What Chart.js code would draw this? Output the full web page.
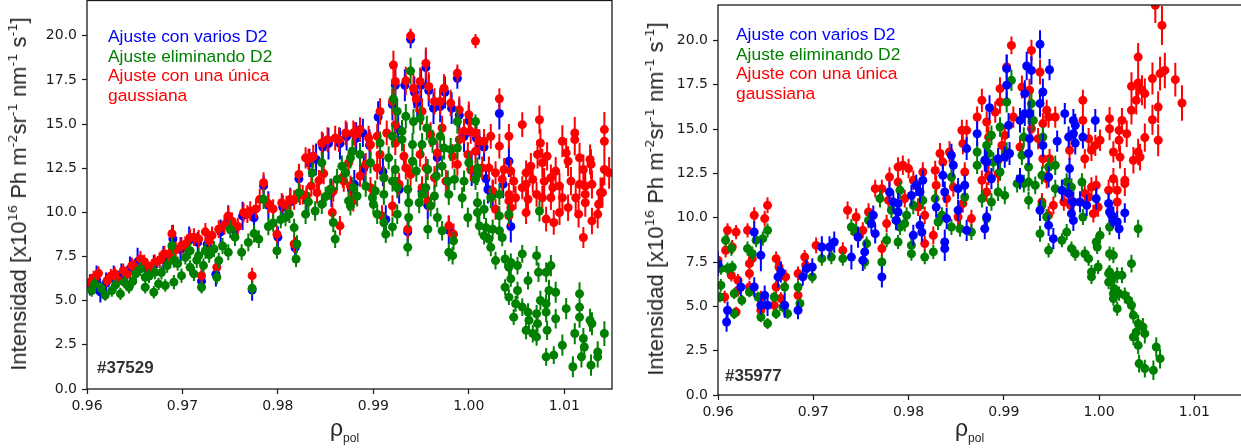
<!DOCTYPE html>
<html><head><meta charset="utf-8">
<script src="https://cdn.jsdelivr.net/npm/chart.js@4"></script>
<style>
html,body{margin:0;padding:0;background:#fff;overflow:hidden;width:1241px;height:448px;}
.wrap{position:absolute;}
.ov{position:absolute;white-space:nowrap;font-family:'Liberation Sans',Arial,sans-serif;}
.ytitle{font-size:22px;color:#262626;transform:translate(-50%,-50%) rotate(-90deg);line-height:22px;}
.ytitle sup{font-size:13px;vertical-align:9px;line-height:0;font-family:'DejaVu Sans',sans-serif;}
.xtitle{font-size:23px;color:#262626;line-height:23px;}
.xtitle sub{font-size:12px;vertical-align:-6px;line-height:0;}
.leg{font-size:17.4px;line-height:19.7px;}
.shot{font-size:17px;font-weight:bold;color:#333;line-height:17px;}
</style></head>
<body>
<div class="wrap" style="left:0;top:-4px;width:620px;height:452px;"><canvas id="cL" width="620" height="452"></canvas></div>
<div class="wrap" style="left:620px;top:0;width:630px;height:448px;"><canvas id="cR" width="630" height="448"></canvas></div>

<div class="ov ytitle" style="left:19px;top:194px;">Intensidad [x10<sup>16</sup> Ph m<sup>-2</sup>sr<sup>-1</sup> nm<sup>-1</sup> s<sup>-1</sup>]</div>
<div class="ov ytitle" style="left:656px;top:199px;">Intensidad [x10<sup>16</sup> Ph m<sup>-2</sup>sr<sup>-1</sup> nm<sup>-1</sup> s<sup>-1</sup>]</div>
<div class="ov xtitle" style="left:330px;top:417px;">ρ<sub>pol</sub></div>
<div class="ov xtitle" style="left:955px;top:417px;">ρ<sub>pol</sub></div>

<div class="ov leg" style="left:108px;top:27px;">
<div style="color:#0000ff">Ajuste con varios D2</div>
<div style="color:#008000">Ajuste eliminando D2</div>
<div style="color:#ff0000">Ajuste con una única<br>gaussiana</div>
</div>
<div class="ov leg" style="left:736px;top:25px;">
<div style="color:#0000ff">Ajuste con varios D2</div>
<div style="color:#008000">Ajuste eliminando D2</div>
<div style="color:#ff0000">Ajuste con una única<br>gaussiana</div>
</div>
<div class="ov shot" style="left:97px;top:359px;">#37529</div>
<div class="ov shot" style="left:725px;top:367px;">#35977</div>

<script>
// ---- data: [rho_pol, intensity, error] ----
const xTicks = [0.96, 0.97, 0.98, 0.99, 1.00, 1.01];
const yTicks = [0.0, 2.5, 5.0, 7.5, 10.0, 12.5, 15.0, 17.5, 20.0];

const L_blue = [[0.9603,5.9,0.6],[0.9610,6.2,0.8],[0.9614,5.5,0.6],[0.9620,6.0,0.6],[0.9628,6.3,0.7],[0.9636,6.5,0.6],[0.9645,6.8,0.7],[0.9653,7.2,0.8],[0.9662,6.8,0.6],[0.9670,7.0,0.6],[0.9680,7.4,0.7],[0.9690,8.5,0.8],[0.9698,7.9,0.7],[0.9707,8.4,0.8],[0.9716,8.3,0.6],[0.9720,6.1,0.6],[0.9726,8.2,0.7],[0.9735,6.5,0.7],[0.9740,8.9,0.7],[0.9748,9.6,0.8],[0.9755,9.0,0.6],[0.9763,9.8,0.8],[0.9773,5.6,0.6],[0.9775,9.7,0.7],[0.9785,11.5,0.6],[0.9790,10.4,0.8],[0.9800,8.6,0.6],[0.9805,10.3,0.7],[0.9813,10.6,0.8],[0.9818,8.0,0.6],[0.9822,11.9,0.7],[0.9830,10.7,0.7],[0.9833,12.8,0.8],[0.9840,13.0,0.9],[0.9847,13.7,0.8],[0.9853,13.9,0.9],[0.9856,11.1,0.8],[0.9865,13.9,0.9],[0.9872,14.3,0.8],[0.9877,11.3,0.7],[0.9880,11.6,0.8],[0.9882,14.2,0.9],[0.9889,14.5,0.8],[0.9890,12.5,0.8],[0.9896,13.8,0.9],[0.9905,15.4,0.9],[0.9910,12.3,0.8],[0.9913,9.6,0.8],[0.9920,16.1,0.9],[0.9923,17.2,1.0],[0.9926,14.7,0.9],[0.9927,11.3,0.8],[0.9933,17.2,0.9],[0.9936,8.9,0.8],[0.9939,19.8,0.5],[0.9943,16.8,0.9],[0.9946,16.2,0.8],[0.9950,17.2,0.9],[0.9951,11.2,0.8],[0.9955,18.2,1.0],[0.9957,10.4,0.8],[0.9958,16.9,0.9],[0.9963,15.9,0.9],[0.9967,13.1,0.8],[0.9970,16.0,0.9],[0.9975,16.8,0.9],[0.9979,9.0,0.8],[0.9982,15.9,0.9],[0.9988,17.6,0.6],[0.9990,15.5,0.9],[0.9995,14.3,0.9],[1.0000,15.2,0.9],[1.0003,12.4,0.9],[1.0008,14.2,0.8],[1.0011,13.8,0.8],[1.0016,13.7,0.8],[1.0018,11.9,0.8],[1.0020,11.3,0.8],[1.0025,11.0,0.8],[1.0032,15.6,0.9],[1.0036,11.6,0.8],[1.0042,12.9,0.9],[1.0044,9.2,0.9]];

const L_green = [[0.9605,5.58,0.35],[0.9608,5.95,0.35],[0.9615,5.7,0.35],[0.9619,5.3,0.3],[0.9626,5.58,0.35],[0.9630,5.9,0.35],[0.9635,5.39,0.35],[0.9639,6.05,0.35],[0.9644,5.76,0.35],[0.9648,6.1,0.35],[0.9651,6.52,0.4],[0.9656,6.8,0.4],[0.9661,6.33,0.4],[0.9661,5.76,0.35],[0.9665,6.4,0.4],[0.9670,5.48,0.35],[0.9671,6.61,0.4],[0.9675,5.95,0.35],[0.9678,6.6,0.4],[0.9682,5.86,0.35],[0.9684,6.99,0.4],[0.9689,8.11,0.45],[0.9691,6.05,0.4],[0.9691,7.27,0.4],[0.9695,7.1,0.4],[0.9699,6.42,0.4],[0.9703,7.45,0.4],[0.9708,6.89,0.4],[0.9708,7.83,0.45],[0.9712,6.52,0.4],[0.9715,7.3,0.45],[0.9717,7.55,0.45],[0.9720,5.76,0.35],[0.9722,6.99,0.4],[0.9724,7.83,0.45],[0.9728,7.6,0.45],[0.9733,7.93,0.45],[0.9736,6.33,0.4],[0.9738,7.27,0.45],[0.9742,8.1,0.45],[0.9748,7.74,0.45],[0.9750,9.05,0.5],[0.9755,8.6,0.5],[0.9762,7.74,0.45],[0.9769,8.3,0.5],[0.9773,5.7,0.4],[0.9775,8.8,0.5],[0.9780,8.49,0.5],[0.9785,10.74,0.55],[0.9790,9.2,0.5],[0.9795,9.4,0.5],[0.9799,7.83,0.45],[0.9803,9.6,0.5],[0.9808,9.71,0.5],[0.9812,9.9,0.5],[0.9817,9.14,0.5],[0.9819,7.36,0.45],[0.9820,8.21,0.5],[0.9822,11.12,0.55],[0.9829,9.9,0.55],[0.9832,10.6,0.55],[0.9836,12.24,0.6],[0.9839,10.08,0.55],[0.9846,10.46,0.55],[0.9846,12.81,0.6],[0.9850,10.9,0.55],[0.9855,11.31,0.6],[0.9858,9.43,0.55],[0.9860,8.49,0.5],[0.9862,11.87,0.6],[0.9867,12.62,0.6],[0.9871,12.24,0.6],[0.9874,10.65,0.55],[0.9876,13.09,0.6],[0.9876,10.37,0.55],[0.9878,13.46,0.65],[0.9879,11.4,0.6],[0.9883,10.93,0.6],[0.9886,13.28,0.65],[0.9892,11.49,0.6],[0.9897,12.81,0.6],[0.9899,10.83,0.6],[0.9900,10.46,0.55],[0.9902,11.21,0.6],[0.9904,9.9,0.55],[0.9907,13.93,0.65],[0.9911,11.96,0.6],[0.9911,11.02,0.6],[0.9911,9.43,0.55],[0.9913,8.77,0.5],[0.9916,13.09,0.65],[0.9920,14.31,0.65],[0.9920,11.77,0.6],[0.9920,9.18,0.55],[0.9921,16.43,0.7],[0.9923,12.43,0.6],[0.9925,15.72,0.7],[0.9925,11.4,0.6],[0.9925,9.9,0.55],[0.9930,14.59,0.65],[0.9930,14.12,0.65],[0.9934,15.44,0.7],[0.9936,11.31,0.6],[0.9936,8.02,0.5],[0.9937,10.55,0.6],[0.9937,9.71,0.55],[0.9939,18.01,0.75],[0.9941,13.84,0.65],[0.9941,12.9,0.6],[0.9942,15.15,0.7],[0.9945,12.34,0.6],[0.9948,10.55,0.6],[0.9949,15.34,0.7],[0.9951,13.84,0.65],[0.9951,11.02,0.6],[0.9955,11.4,0.6],[0.9956,14.78,0.7],[0.9957,12.43,0.6],[0.9957,9.05,0.55],[0.9960,10.37,0.6],[0.9962,14.03,0.65],[0.9964,10.93,0.6],[0.9966,12.06,0.6],[0.9967,9.71,0.55],[0.9970,14.31,0.65],[0.9972,12.62,0.6],[0.9972,8.96,0.55],[0.9974,13.65,0.65],[0.9978,11.77,0.6],[0.9979,11.02,0.6],[0.9979,7.74,0.5],[0.9981,13.56,0.65],[0.9983,7.55,0.5],[0.9984,8.39,0.5],[0.9985,11.87,0.6],[0.9988,15.15,0.7],[0.9988,13.65,0.65],[0.9993,10.83,0.6],[0.9995,11.77,0.6],[0.9999,9.71,0.55],[1.0000,12.81,0.6],[1.0007,15.15,0.4],[1.0007,11.87,0.6],[1.0009,12.52,0.6],[1.0009,12.15,0.6],[1.0009,10.55,0.6],[1.0009,9.99,0.55],[1.0011,9.24,0.55],[1.0016,10.18,0.55],[1.0016,8.68,0.5],[1.0018,9.14,0.55],[1.0021,8.49,0.5],[1.0023,10.83,0.6],[1.0023,8.02,0.5],[1.0025,9.05,0.55],[1.0028,7.27,0.5],[1.0032,11.02,0.6],[1.0032,9.8,0.55],[1.0032,8.96,0.55],[1.0035,8.58,0.5],[1.0038,7.36,0.5],[1.0038,5.76,0.45],[1.0042,9.9,0.55],[1.0042,6.89,0.5],[1.0042,5.2,0.45],[1.0044,7.17,0.5],[1.0044,6.24,0.45],[1.0047,4.07,0.45],[1.0049,4.83,0.45],[1.0051,6.99,0.5],[1.0051,5.58,0.5],[1.0056,7.65,0.5],[1.0056,4.64,0.5],[1.0060,3.32,0.5],[1.0062,6.14,0.5],[1.0062,4.35,0.5],[1.0063,3.89,0.5],[1.0067,3.14,0.5],[1.0071,7.55,0.55],[1.0071,4.26,0.5],[1.0071,2.95,0.5],[1.0072,3.7,0.5],[1.0073,6.61,0.55],[1.0074,10.08,0.6],[1.0075,5.01,0.55],[1.0081,6.61,0.55],[1.0081,4.83,0.55],[1.0081,4.35,0.55],[1.0081,1.82,0.5],[1.0082,3.32,0.55],[1.0084,5.58,0.6],[1.0086,6.99,0.6],[1.0089,1.92,0.5],[1.0091,5.48,0.6],[1.0091,3.98,0.55],[1.0098,2.48,0.6],[1.0102,4.55,0.6],[1.0109,1.26,0.6],[1.0111,3.14,0.6],[1.0116,5.39,0.65],[1.0116,4.64,0.65],[1.0116,4.07,0.6],[1.0118,1.82,0.6],[1.0120,2.86,0.6],[1.0121,2.38,0.6],[1.0127,3.89,0.65],[1.0128,1.35,0.6],[1.0129,3.7,0.65],[1.0135,2.1,0.6],[1.0135,1.82,0.6],[1.0142,3.14,0.7]];

const L_red = [[0.9603,6.05,0.35],[0.9607,6.3,0.4],[0.9612,6.55,0.4],[0.9621,6.14,0.35],[0.9625,6.4,0.4],[0.9629,6.52,0.4],[0.9632,6.2,0.35],[0.9638,6.7,0.4],[0.9642,6.5,0.4],[0.9647,6.99,0.45],[0.9650,6.9,0.4],[0.9656,7.36,0.45],[0.9660,7.2,0.4],[0.9663,6.99,0.4],[0.9667,6.8,0.4],[0.9671,7.17,0.45],[0.9676,7.3,0.45],[0.9681,7.66,0.45],[0.9686,7.65,0.45],[0.9689,8.79,0.5],[0.9693,7.9,0.45],[0.9699,8.11,0.5],[0.9703,8.2,0.45],[0.9708,8.58,0.5],[0.9712,8.6,0.5],[0.9717,8.5,0.5],[0.9720,6.42,0.4],[0.9724,8.9,0.5],[0.9728,8.4,0.5],[0.9731,8.7,0.5],[0.9736,6.89,0.45],[0.9738,9.05,0.5],[0.9744,9.3,0.55],[0.9748,9.8,0.55],[0.9752,9.5,0.5],[0.9758,9.2,0.5],[0.9764,9.99,0.55],[0.9768,9.9,0.5],[0.9771,10.08,0.55],[0.9773,6.42,0.45],[0.9777,10.2,0.55],[0.9781,10.74,0.6],[0.9785,11.68,0.6],[0.9790,10.5,0.55],[0.9795,10.2,0.55],[0.9799,8.77,0.5],[0.9804,10.55,0.55],[0.9809,10.4,0.55],[0.9813,10.74,0.6],[0.9817,8.21,0.5],[0.9817,10.7,0.55],[0.9822,12.15,0.6],[0.9823,11.02,0.6],[0.9826,11.0,0.55],[0.9829,13.09,0.6],[0.9830,10.93,0.6],[0.9832,13.0,0.6],[0.9835,11.5,0.6],[0.9837,13.18,0.65],[0.9841,11.12,0.6],[0.9843,11.8,0.6],[0.9846,13.93,0.65],[0.9848,12.2,0.6],[0.9852,14.12,0.7],[0.9855,11.31,0.6],[0.9857,9.99,0.55],[0.9858,11.21,0.6],[0.9860,14.21,0.7],[0.9864,14.12,0.7],[0.9865,9.24,0.55],[0.9868,12.0,0.6],[0.9869,11.77,0.6],[0.9871,14.5,0.7],[0.9874,12.8,0.65],[0.9876,11.49,0.6],[0.9879,14.5,0.7],[0.9879,10.65,0.6],[0.9881,14.41,0.7],[0.9886,14.69,0.7],[0.9886,12.06,0.6],[0.9892,12.72,0.65],[0.9895,14.21,0.7],[0.9897,13.84,0.7],[0.9897,11.4,0.6],[0.9904,14.31,0.7],[0.9904,12.52,0.65],[0.9907,15.72,0.75],[0.9907,13.28,0.65],[0.9909,9.8,0.6],[0.9911,11.96,0.65],[0.9914,14.5,0.7],[0.9920,16.28,0.75],[0.9920,10.37,0.6],[0.9921,18.35,0.8],[0.9923,17.41,0.8],[0.9923,14.97,0.7],[0.9923,13.93,0.7],[0.9927,11.59,0.65],[0.9932,13.18,0.7],[0.9934,17.45,0.8],[0.9934,12.52,0.65],[0.9936,9.05,0.6],[0.9939,20.0,0.4],[0.9939,12.15,0.65],[0.9942,17.03,0.8],[0.9945,16.43,0.75],[0.9949,17.41,0.8],[0.9949,13.28,0.7],[0.9951,15.72,0.75],[0.9951,11.4,0.65],[0.9955,18.44,0.9],[0.9955,12.52,0.65],[0.9957,10.65,0.6],[0.9958,17.13,0.8],[0.9960,14.41,0.7],[0.9964,16.28,0.75],[0.9964,11.96,0.65],[0.9967,13.37,0.7],[0.9970,16.28,0.75],[0.9972,14.78,0.7],[0.9974,17.03,0.8],[0.9976,11.77,0.65],[0.9979,9.24,0.6],[0.9981,16.19,0.75],[0.9983,13.18,0.7],[0.9984,8.77,0.6],[0.9988,17.88,0.5],[0.9988,12.72,0.65],[0.9990,15.81,0.75],[0.9990,14.12,0.7],[0.9995,14.59,0.7],[0.9999,13.28,0.7],[1.0000,15.53,0.75],[1.0002,14.59,0.7],[1.0002,12.43,0.65],[1.0007,19.7,0.4],[1.0007,14.5,0.7],[1.0007,13.46,0.7],[1.0011,14.03,0.7],[1.0014,12.52,0.65],[1.0016,14.03,0.7],[1.0021,12.52,0.65],[1.0023,14.31,0.7],[1.0025,11.21,0.65],[1.0028,12.24,0.65],[1.0028,10.18,0.6],[1.0032,16.43,0.6],[1.0032,13.75,0.7],[1.0035,11.87,0.65],[1.0037,12.43,0.65],[1.0042,14.31,0.7],[1.0042,11.02,0.65],[1.0042,10.65,0.6],[1.0042,9.8,0.6],[1.0044,12.34,0.65],[1.0044,10.27,0.6],[1.0047,11.77,0.65],[1.0049,10.83,0.65],[1.0056,14.97,0.7],[1.0056,11.4,0.65],[1.0060,12.24,0.7],[1.0060,11.59,0.7],[1.0060,9.99,0.65],[1.0062,10.74,0.7],[1.0065,12.62,0.75],[1.0067,11.87,0.75],[1.0071,11.02,0.7],[1.0072,13.28,0.8],[1.0074,15.25,0.8],[1.0075,13.93,0.8],[1.0077,12.81,0.8],[1.0077,10.83,0.7],[1.0079,11.77,0.75],[1.0081,9.62,0.7],[1.0082,13.18,0.8],[1.0086,11.96,0.75],[1.0086,10.83,0.7],[1.0088,11.4,0.75],[1.0089,9.43,0.7],[1.0091,12.34,0.8],[1.0095,11.49,0.75],[1.0095,9.99,0.7],[1.0098,14.03,0.9],[1.0098,10.83,0.75],[1.0102,13.37,0.85],[1.0104,12.9,0.85],[1.0104,10.27,0.75],[1.0107,11.77,0.8],[1.0111,14.5,0.9],[1.0111,14.12,0.9],[1.0112,10.83,0.8],[1.0115,9.9,0.75],[1.0116,13.09,0.85],[1.0116,11.59,0.8],[1.0120,12.43,0.85],[1.0120,8.58,0.6],[1.0122,11.49,0.8],[1.0122,11.02,0.8],[1.0122,10.55,0.8],[1.0127,13.0,0.85],[1.0128,12.72,0.85],[1.0129,11.59,0.8],[1.0129,9.52,0.75],[1.0135,9.9,0.8],[1.0136,10.46,0.8],[1.0138,11.12,0.85],[1.0140,11.12,0.85],[1.0142,14.69,1.0],[1.0142,14.03,1.0],[1.0142,12.43,0.9],[1.0147,12.24,0.9]];

const R_blue = [[0.9600,7.41,0.7],[0.9609,4.12,0.55],[0.9610,4.78,0.5],[0.9624,6.09,0.5],[0.9638,9.19,0.6],[0.9638,6.09,0.55],[0.9645,7.88,0.9],[0.9645,5.06,0.5],[0.9649,5.62,0.55],[0.9652,5.06,0.6],[0.9663,6.66,0.6],[0.9666,6.94,0.6],[0.9670,5.06,0.7],[0.9684,4.78,0.5],[0.9689,6.66,0.5],[0.9693,7.13,0.5],[0.9699,7.22,0.5],[0.9709,8.35,0.6],[0.9717,8.35,0.6],[0.9722,8.63,0.6],[0.9740,7.78,0.7],[0.9747,8.91,0.6],[0.9752,7.6,0.6],[0.9754,8.07,0.6],[0.9761,9.67,0.55],[0.9763,10.14,0.55],[0.9765,9.1,0.55],[0.9772,6.66,0.6],[0.9780,11.45,0.6],[0.9784,10.89,0.6],[0.9787,9.85,0.55],[0.9789,10.8,0.6],[0.9789,10.32,0.6],[0.9803,11.26,0.6],[0.9805,9.01,0.6],[0.9808,11.83,0.6],[0.9812,11.45,0.6],[0.9812,9.57,0.55],[0.9814,9.19,0.55],[0.9815,12.11,0.6],[0.9829,10.6,0.6],[0.9836,12.39,0.65],[0.9838,11.45,0.6],[0.9838,8.63,0.7],[0.9838,8.26,0.7],[0.9840,9.95,0.6],[0.9845,13.52,0.65],[0.9847,12.96,0.65],[0.9852,11.64,0.6],[0.9852,10.42,0.6],[0.9859,11.83,0.6],[0.9861,13.9,0.65],[0.9861,9.29,0.6],[0.9872,14.74,0.7],[0.9880,13.24,0.65],[0.9880,9.38,0.6],[0.9882,13.14,0.6],[0.9882,10.04,0.6],[0.9885,16.21,0.7],[0.9887,12.2,0.6],[0.9894,13.33,0.6],[0.9901,13.42,0.6],[0.9903,18.41,0.8],[0.9903,17.47,0.75],[0.9905,15.21,0.7],[0.9906,13.62,0.65],[0.9917,15.49,0.7],[0.9917,12.2,0.6],[0.9922,17.0,0.75],[0.9922,15.87,0.7],[0.9924,18.56,0.8],[0.9926,13.62,0.65],[0.9927,15.87,0.7],[0.9927,14.46,0.65],[0.9929,18.31,0.8],[0.9938,19.78,0.8],[0.9938,16.44,0.75],[0.9938,10.42,0.6],[0.9941,17.09,0.75],[0.9941,14.08,0.65],[0.9947,12.3,0.6],[0.9947,9.57,0.6],[0.9948,18.35,0.6],[0.9952,8.82,0.6],[0.9956,14.32,0.6],[0.9961,11.55,0.6],[0.9964,15.87,0.6],[0.9968,14.55,0.6],[0.9968,11.36,0.6],[0.9969,12.77,0.6],[0.9971,10.23,0.6],[0.9973,15.49,0.65],[0.9973,14.74,0.65],[0.9973,10.89,0.6],[0.9973,9.85,0.6],[0.9975,15.21,0.65],[0.9975,14.21,0.65],[0.9980,10.89,0.6],[0.9983,14.55,0.65],[0.9987,10.7,0.6],[0.9996,15.49,0.65],[0.9997,11.08,0.6],[1.0010,10.8,0.6],[1.0011,10.32,0.6],[1.0013,10.14,0.6],[1.0015,10.04,0.6],[1.0019,9.76,0.6],[1.0021,9.38,0.6],[1.0027,10.27,0.55]];

const R_green = [[0.9602,5.53,0.3],[0.9603,7.13,0.35],[0.9603,6.19,0.35],[0.9608,8.73,0.4],[0.9610,7.13,0.35],[0.9614,8.26,0.4],[0.9615,7.22,0.35],[0.9617,5.72,0.3],[0.9617,4.59,0.3],[0.9625,5.34,0.3],[0.9631,8.26,0.4],[0.9633,5.81,0.3],[0.9636,7.97,0.4],[0.9640,8.73,0.4],[0.9642,5.53,0.3],[0.9645,4.4,0.3],[0.9647,8.82,0.4],[0.9652,9.29,0.4],[0.9652,4.03,0.3],[0.9659,5.53,0.3],[0.9661,4.59,0.3],[0.9668,4.96,0.3],[0.9670,6.09,0.35],[0.9673,4.59,0.3],[0.9684,6.09,0.35],[0.9686,5.16,0.3],[0.9699,6.66,0.35],[0.9709,7.69,0.4],[0.9719,7.78,0.4],[0.9731,7.69,0.4],[0.9740,9.48,0.45],[0.9745,9.19,0.45],[0.9754,7.5,0.4],[0.9756,8.54,0.4],[0.9758,9.85,0.45],[0.9770,11.08,0.5],[0.9772,7.5,0.4],[0.9777,8.73,0.4],[0.9782,10.42,0.45],[0.9787,9.85,0.45],[0.9789,8.63,0.4],[0.9791,11.55,0.5],[0.9791,9.48,0.45],[0.9796,9.67,0.45],[0.9798,10.14,0.45],[0.9803,8.44,0.4],[0.9803,7.97,0.4],[0.9805,10.7,0.5],[0.9815,10.98,0.5],[0.9817,7.78,0.4],[0.9826,8.07,0.4],[0.9828,11.08,0.5],[0.9831,9.76,0.45],[0.9835,10.14,0.45],[0.9845,12.3,0.5],[0.9845,9.48,0.45],[0.9854,9.38,0.45],[0.9859,11.17,0.5],[0.9866,9.19,0.45],[0.9872,12.96,0.5],[0.9872,13.71,0.55],[0.9877,11.08,0.5],[0.9882,14.08,0.55],[0.9882,9.95,0.45],[0.9884,13.62,0.55],[0.9887,14.65,0.55],[0.9887,10.89,0.5],[0.9889,13.14,0.55],[0.9894,11.45,0.5],[0.9896,15.12,0.55],[0.9896,12.58,0.5],[0.9901,11.26,0.5],[0.9903,16.53,0.6],[0.9903,13.71,0.55],[0.9908,17.75,0.6],[0.9914,11.92,0.5],[0.9919,13.52,0.55],[0.9921,14.55,0.55],[0.9921,11.92,0.5],[0.9926,15.87,0.6],[0.9926,12.86,0.55],[0.9926,12.01,0.5],[0.9926,10.98,0.5],[0.9929,16.44,0.6],[0.9931,15.49,0.6],[0.9933,11.83,0.5],[0.9938,9.1,0.45],[0.9940,12.39,0.5],[0.9940,10.7,0.5],[0.9941,14.55,0.55],[0.9945,10.04,0.45],[0.9947,12.86,0.55],[0.9947,8.16,0.4],[0.9954,12.96,0.55],[0.9954,11.64,0.5],[0.9961,8.73,0.4],[0.9966,12.01,0.5],[0.9966,9.19,0.45],[0.9971,11.73,0.5],[0.9971,8.26,0.4],[0.9975,7.97,0.4],[0.9982,12.01,0.5],[0.9983,10.04,0.45],[0.9985,7.97,0.4],[0.9989,7.69,0.4],[0.9992,6.94,0.4],[0.9992,6.66,0.4],[0.9997,8.63,0.4],[0.9998,8.35,0.4],[0.9999,7.22,0.4],[1.0001,9.01,0.45],[1.0010,6.85,0.4],[1.0010,6.37,0.4],[1.0011,9.48,0.45],[1.0011,7.97,0.4],[1.0011,6.94,0.4],[1.0013,6.47,0.4],[1.0015,7.88,0.45],[1.0015,5.72,0.4],[1.0015,5.44,0.4],[1.0016,6.0,0.4],[1.0019,6.75,0.45],[1.0019,4.87,0.4],[1.0021,5.72,0.4],[1.0024,6.75,0.45],[1.0027,5.62,0.45],[1.0031,5.34,0.45],[1.0034,7.41,0.5],[1.0034,5.06,0.45],[1.0036,4.5,0.45],[1.0036,3.27,0.45],[1.0039,3.55,0.5],[1.0041,9.38,0.5],[1.0041,4.03,0.5],[1.0041,2.8,0.5],[1.0042,1.77,0.5],[1.0046,3.84,0.5],[1.0048,3.46,0.55],[1.0048,1.49,0.5],[1.0057,1.39,0.55],[1.0060,2.71,0.55],[1.0064,2.05,0.55]];

const R_red = [[0.9600,7.6,0.35],[0.9607,5.53,0.35],[0.9608,8.16,0.4],[0.9610,9.29,0.4],[0.9614,6.75,0.35],[0.9615,8.35,0.4],[0.9619,9.19,0.4],[0.9619,4.68,0.3],[0.9621,6.47,0.35],[0.9621,5.91,0.35],[0.9631,9.29,0.4],[0.9633,7.41,0.4],[0.9633,6.85,0.35],[0.9633,6.09,0.35],[0.9636,7.69,0.4],[0.9638,10.14,0.45],[0.9645,5.53,0.35],[0.9645,4.78,0.3],[0.9649,9.95,0.45],[0.9652,10.7,0.45],[0.9659,5.06,0.35],[0.9661,7.69,0.4],[0.9661,6.09,0.35],[0.9664,7.22,0.4],[0.9666,5.44,0.35],[0.9671,6.66,0.4],[0.9684,6.85,0.4],[0.9684,5.62,0.35],[0.9691,7.78,0.4],[0.9692,7.32,0.4],[0.9703,8.44,0.45],[0.9731,8.16,0.45],[0.9736,10.42,0.5],[0.9744,9.19,0.45],[0.9745,10.04,0.5],[0.9752,9.29,0.45],[0.9758,10.32,0.5],[0.9765,11.64,0.5],[0.9772,11.64,0.5],[0.9772,8.26,0.45],[0.9777,9.67,0.5],[0.9779,10.98,0.5],[0.9780,12.3,0.55],[0.9789,12.86,0.55],[0.9789,12.01,0.55],[0.9794,12.96,0.55],[0.9796,11.08,0.5],[0.9800,12.77,0.55],[0.9805,12.11,0.55],[0.9810,10.6,0.5],[0.9815,12.58,0.55],[0.9817,10.14,0.5],[0.9817,8.54,0.45],[0.9826,9.01,0.5],[0.9828,12.67,0.55],[0.9829,11.83,0.55],[0.9833,13.62,0.6],[0.9836,13.14,0.6],[0.9840,11.08,0.5],[0.9843,13.71,0.6],[0.9847,11.73,0.55],[0.9852,10.04,0.5],[0.9856,14.93,0.6],[0.9857,14.18,0.6],[0.9857,10.8,0.5],[0.9859,12.58,0.55],[0.9861,14.93,0.6],[0.9866,9.95,0.5],[0.9872,15.68,0.6],[0.9877,16.62,0.65],[0.9877,12.11,0.55],[0.9882,15.4,0.6],[0.9882,11.45,0.55],[0.9884,14.55,0.6],[0.9884,12.39,0.55],[0.9891,15.96,0.6],[0.9894,13.24,0.55],[0.9894,12.49,0.55],[0.9896,17.28,0.65],[0.9896,16.53,0.65],[0.9898,14.08,0.6],[0.9901,14.65,0.6],[0.9903,18.5,0.7],[0.9908,19.72,0.5],[0.9910,15.68,0.6],[0.9917,13.99,0.6],[0.9919,17.37,0.65],[0.9927,17.19,0.65],[0.9929,19.44,0.6],[0.9929,15.02,0.6],[0.9936,14.46,0.6],[0.9938,18.22,0.7],[0.9940,10.89,0.5],[0.9941,15.31,0.6],[0.9941,13.33,0.55],[0.9945,16.06,0.6],[0.9945,12.2,0.55],[0.9947,15.68,0.6],[0.9947,10.14,0.5],[0.9948,13.33,0.55],[0.9952,10.7,0.5],[0.9954,15.68,0.6],[0.9963,10.89,0.5],[0.9969,13.8,0.55],[0.9970,10.7,0.5],[0.9972,10.89,0.5],[0.9983,16.62,0.6],[0.9983,15.49,0.6],[0.9985,13.33,0.55],[0.9985,11.36,0.55],[0.9989,14.46,0.6],[0.9989,11.17,0.55],[0.9992,13.8,0.6],[0.9992,11.73,0.55],[0.9994,10.23,0.5],[0.9996,14.08,0.6],[0.9997,11.83,0.55],[0.9999,10.6,0.55],[1.0001,14.37,0.6],[1.0010,11.55,0.6],[1.0011,15.59,0.65],[1.0011,15.02,0.65],[1.0015,13.71,0.6],[1.0015,12.2,0.6],[1.0019,11.55,0.6],[1.0019,10.89,0.6],[1.0021,14.93,0.65],[1.0021,14.37,0.65],[1.0022,13.42,0.65],[1.0024,15.49,0.7],[1.0027,12.11,0.7],[1.0027,11.92,0.7],[1.0029,14.74,0.75],[1.0034,17.41,0.8],[1.0034,16.06,0.8],[1.0036,13.24,0.75],[1.0039,16.62,0.8],[1.0041,19.06,0.8],[1.0041,17.6,0.8],[1.0041,13.71,0.75],[1.0043,13.42,0.75],[1.0045,17.19,0.85],[1.0048,17.0,0.85],[1.0048,14.52,0.8],[1.0056,17.85,0.9],[1.0056,15.53,0.85],[1.0059,21.98,1.0],[1.0062,16.24,0.9],[1.0062,14.37,0.9],[1.0064,18.13,0.95],[1.0066,20.85,1.1],[1.0069,18.31,1.0],[1.0080,17.79,0.95],[1.0087,16.47,1.0]];

const BLUE = '#0000ff', GREEN = '#008000', RED = '#ff0000';

// ---- plugins ----
const errorBars = {
  id: 'errorBars',
  beforeDatasetDraw(chart, args) {
    const ds = chart.data.datasets[args.index];
    if (!ds.err) return;
    const {ctx, chartArea: a, scales: {x, y}} = chart;
    ctx.save();
    ctx.beginPath(); ctx.rect(a.left, a.top, a.right - a.left, a.bottom - a.top); ctx.clip();
    ctx.strokeStyle = ds.backgroundColor; ctx.lineWidth = 2;
    ctx.beginPath();
    ds.data.forEach((p, i) => {
      const px = x.getPixelForValue(p.x);
      ctx.moveTo(px, y.getPixelForValue(p.y - ds.err[i]));
      ctx.lineTo(px, y.getPixelForValue(p.y + ds.err[i]));
    });
    ctx.stroke();
    ctx.restore();
  }
};
const frame = {
  id: 'frame',
  afterDatasetsDraw(chart) {
    const {ctx, chartArea: a} = chart;
    ctx.save(); ctx.strokeStyle = '#1a1a1a'; ctx.lineWidth = 1.3;
    ctx.strokeRect(a.left, a.top, a.right - a.left, a.bottom - a.top);
    ctx.restore();
  }
};

function mkds(arr, color, order) {
  return {
    data: arr.map(p => ({x: p[0], y: p[1]})),
    err: arr.map(p => p[2]),
    backgroundColor: color, borderColor: color,
    pointRadius: 4.5, pointBorderWidth: 0, pointHoverRadius: 4.5,
    order: order
  };
}

function noPad(s) { s.paddingTop = 0; s.paddingBottom = 0; s.paddingLeft = 0; s.paddingRight = 0; }

function makeChart(id, sets, pad, yW, xH) {
  new Chart(document.getElementById(id), {
    type: 'scatter',
    data: {datasets: sets},
    plugins: [errorBars, frame],
    options: {
      responsive: false, animation: false, events: [],
      layout: {padding: pad},
      plugins: {legend: {display: false}, tooltip: {enabled: false}},
      scales: {
        x: {
          type: 'linear', min: 0.96, max: 1.015,
          afterBuildTicks: s => { s.ticks = xTicks.map(v => ({value: v})); },
          afterFit: s => { s.height = xH; noPad(s); },
          ticks: {callback: v => v.toFixed(2), font: {family: 'DejaVu Sans', size: 14}, color: '#1a1a1a', padding: 4, maxRotation: 0, autoSkip: false},
          grid: {drawOnChartArea: false, drawTicks: true, tickLength: 5, tickColor: '#1a1a1a', tickWidth: 1.2},
          border: {display: false}
        },
        y: {
          type: 'linear', min: 0, max: 22,
          afterBuildTicks: s => { s.ticks = yTicks.map(v => ({value: v})); },
          afterFit: s => { s.width = yW; noPad(s); },
          ticks: {callback: v => v.toFixed(1), font: {family: 'DejaVu Sans', size: 14}, color: '#1a1a1a', padding: 5, autoSkip: false},
          grid: {drawOnChartArea: false, drawTicks: true, tickLength: 5, tickColor: '#1a1a1a', tickWidth: 1.2},
          border: {display: false}
        }
      }
    }
  });
}

// left: blue bottom, red middle, green on top
makeChart('cL', [mkds(L_green, GREEN, 0), mkds(L_red, RED, 1), mkds(L_blue, BLUE, 2)],
  {left: 0, right: 8, top: 0, bottom: 0}, 87, 59);
// right: red bottom, green middle, blue on top
makeChart('cR', [mkds(R_blue, BLUE, 0), mkds(R_green, GREEN, 1), mkds(R_red, RED, 2)],
  {left: 0, right: 8, top: 5, bottom: 0}, 98, 53);
</script>
</body></html>
